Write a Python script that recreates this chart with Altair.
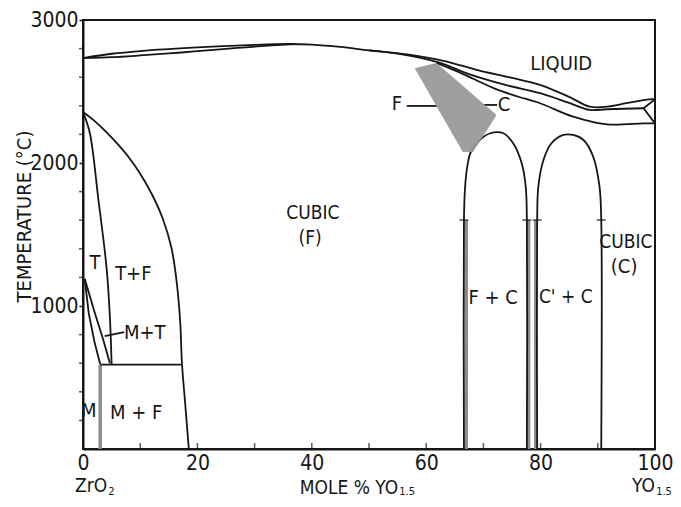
import altair as alt
import pandas as pd

W, H = 572, 429
FONT = "DejaVu Sans Condensed, Liberation Sans Narrow, Arial Narrow, sans-serif"
INK = "#161616"

# ---------------- phase-boundary curves (mole % YO1.5, temperature in C) ----------------
liquidus_x = [0, 5, 10, 20, 30, 36, 40, 45, 50, 57, 63, 69, 75, 80, 85, 88.6, 91.6, 95, 99, 100]
liquidus_T = [2734, 2764, 2783, 2808, 2826, 2832, 2828, 2812, 2788, 2758, 2715, 2650, 2595, 2545, 2462, 2394, 2394, 2418, 2445, 2445]

solidus_left_x = [0, 5, 10, 15, 20, 27, 33, 37]
solidus_left_T = [2734, 2740, 2752, 2766, 2782, 2805, 2822, 2831]

solidus_right_x = [50, 55, 62, 68, 74, 79.9, 85, 88.6, 91.6, 98]
solidus_right_T = [2788, 2765, 2705, 2615, 2545, 2488, 2420, 2371, 2376, 2383]

cubic_sol_x = [61.8, 66, 72, 76, 79.9, 85.7, 91.6, 98, 100]
cubic_sol_T = [2700, 2630, 2520, 2465, 2418, 2324, 2270, 2277, 2277]

hex_x = [100, 98, 100]
hex_T = [2445, 2383, 2277]

fluorite_x = [0, 2, 4, 6, 8, 10, 12, 14, 15.5, 16.4, 17.0, 17.3, 17.9, 18.5]
fluorite_T = [2357, 2295, 2220, 2135, 2040, 1925, 1785, 1605, 1400, 1160, 885, 600, 300, 0]

tetra_x = [0, 1.2, 2.7, 4.1, 4.7, 5.0]
tetra_T = [2357, 2208, 1741, 1275, 925, 595]

eutectoid_x = [3.0, 17.3]
eutectoid_T = [590, 590]

t_mt_x = [0.3, 2.0, 3.5, 4.7]
t_mt_T = [1190, 960, 770, 600]

m_mt_x = [0.3, 1.0, 2.0, 3.0]
m_mt_T = [1190, 950, 750, 595]

dome1_x = [66.6, 66.6, 66.8, 67.2, 67.8, 69.5, 71.2, 73.5, 75.2, 76.7, 77.4, 77.6, 77.6]
dome1_T = [0, 1601, 1834, 1980, 2077, 2165, 2208, 2208, 2138, 1998, 1834, 1601, 0]

dome2_x = [79.4, 79.4, 79.6, 80.5, 81.9, 84.0, 85.7, 87.5, 89.2, 90.3, 90.6, 90.6]
dome2_T = [0, 1601, 1834, 2021, 2138, 2196, 2196, 2161, 2044, 1834, 1601, 0]

leader_mt_x = [3.8, 7.2]
leader_mt_T = [790, 818]
leader_f_x = [56.6, 61.9]
leader_f_T = [2399, 2399]
leader_c_x = [69.9, 72.4]
leader_c_T = [2406, 2406]

# gray (double-drawn) boundaries
gray_m_x = [3.0, 3.0]
gray_m_T = [0, 590]
gray_v1_x = [67.0, 67.0]
gray_v2_x = [77.9, 77.9]
gray_v3_x = [79.15, 79.15]
gray_v_T = [0, 1601]

# two-phase F + C (hatched) region
hatch_x = [58, 61.8, 66.4, 68.2, 72.3]
hatch_top = [2662, 2700, 2540, 2478, 2336]
hatch_bot = [2662, 2397, 2077, 2077, 2336]

# transition marks on the vertical boundaries
mark_x = [66.6, 77.6, 79.4, 90.6]
mark_T = [1601, 1601, 1601, 1601]

# region labels
label_text = ["LIQUID", "CUBIC", "(F)", "CUBIC", "(C)", "T", "T+F", "M+T", "M", "M + F",
              "F + C", "C' + C", "F", "C"]
label_x = [83.6, 40.2, 39.7, 94.9, 94.6, 2.1, 8.8, 10.8, 1.0, 9.3, 71.7, 84.4, 54.9, 73.6]
label_T = [2692, 1650, 1475, 1448, 1273, 1300, 1224, 811, 266, 252, 1056, 1063, 2413, 2406]
label_size = [20, 19, 19, 19, 20, 20, 20, 20, 20, 20, 20, 19, 20, 20]

# labels under the x axis (main text + subscript), positions in mole %
bottom_text = ["ZrO", "YO"]
bottom_x = [-1.4, 96.0]
bottom_sub_text = ["2", "1.5", "1.5"]
bottom_sub_x = [4.4, 55.3, 100.2]
axis_title_text = ["MOLE % YO"]
axis_title_x = [55.1]

x_label_values = [0, 20, 40, 60, 80, 100]
x_minor_ticks = [10, 20, 30, 40, 50, 60, 70, 80, 90]
y_label_values = [1000, 2000, 3000]
y_minor_ticks = [200, 400, 600, 800, 1200, 1400, 1600, 1800, 2200, 2400, 2600, 2800]


def curves(named):
    rows = []
    for name, xs_, ts in named:
        for i, (a, b) in enumerate(zip(xs_, ts)):
            rows.append({"curve": name, "i": i, "x": a, "T": b})
    return pd.DataFrame(rows)


smooth = curves([
    ("liquidus", liquidus_x, liquidus_T),
    ("sol_left", solidus_left_x, solidus_left_T),
    ("sol_right", solidus_right_x, solidus_right_T),
    ("cubic_sol", cubic_sol_x, cubic_sol_T),
    ("fluorite", fluorite_x, fluorite_T),
    ("tetra", tetra_x, tetra_T),
    ("dome1", dome1_x, dome1_T),
    ("dome2", dome2_x, dome2_T),
])
straight = curves([
    ("hex", hex_x, hex_T),
    ("eut", eutectoid_x, eutectoid_T),
    ("tmt", t_mt_x, t_mt_T),
    ("mmt", m_mt_x, m_mt_T),
    ("lmt", leader_mt_x, leader_mt_T),
    ("lf", leader_f_x, leader_f_T),
    ("lc", leader_c_x, leader_c_T),
])
gray = curves([
    ("gm", gray_m_x, gray_m_T),
    ("g1", gray_v1_x, gray_v_T),
    ("g2", gray_v2_x, gray_v_T),
    ("g3", gray_v3_x, gray_v_T),
])
hatch = pd.DataFrame({"x": hatch_x, "top": hatch_top, "bot": hatch_bot})
marks = pd.DataFrame({"x": mark_x, "T": mark_T})
labels = pd.DataFrame({"text": label_text, "x": label_x, "T": label_T, "size": label_size})
xticks = pd.DataFrame({"x": x_minor_ticks})
yticks = pd.DataFrame({"T": y_minor_ticks})
bottom_main = pd.DataFrame({"text": bottom_text, "x": bottom_x})
bottom_sub = pd.DataFrame({"text": bottom_sub_text, "x": bottom_sub_x})
axis_title = pd.DataFrame({"text": axis_title_text, "x": axis_title_x})

xs = alt.Scale(domain=[0, 100], nice=False, zero=False)
ys = alt.Scale(domain=[0, 3000], nice=False, zero=False)

x_axis = alt.Axis(values=x_label_values, title=None, ticks=False, grid=False,
                  labelFont=FONT, labelFontSize=21, labelColor=INK, labelPadding=3,
                  labelFlush=False, labelOverlap=False,
                  domainColor=INK, domainWidth=2)
y_axis = alt.Axis(values=y_label_values, grid=False, format="d",
                  labelFont=FONT, labelFontSize=21, labelColor=INK, labelPadding=1,
                  labelOverlap=False, labelFlush=False,
                  tickSize=4, tickColor=INK, tickWidth=1.5,
                  domainColor=INK, domainWidth=2,
                  title="TEMPERATURE (°C)", titleFont=FONT, titleFontSize=20,
                  titleFontWeight="normal", titleColor=INK, titleAngle=270,
                  titleX=-59, titleY=196, titleAlign="center", titleBaseline="middle")

X = alt.X("x:Q", scale=xs)
Y = alt.Y("T:Q", scale=ys)

gray_layer = alt.Chart(gray).mark_line(color="#8c8c8c", strokeWidth=3.5).encode(
    x=X, y=Y, detail="curve:N", order="i:Q")

smooth_layer = alt.Chart(smooth).mark_line(color=INK, strokeWidth=1.8, interpolate="catmull-rom").encode(
    x=alt.X("x:Q", scale=xs, axis=x_axis), y=alt.Y("T:Q", scale=ys, axis=y_axis),
    detail="curve:N", order="i:Q")

straight_layer = alt.Chart(straight).mark_line(color=INK, strokeWidth=1.8).encode(
    x=X, y=Y, detail="curve:N", order="i:Q")

hatch_layer = alt.Chart(hatch).mark_area(color="#9a9a9a", opacity=0.95).encode(
    x=X, y=alt.Y("top:Q", scale=ys), y2="bot:Q")

mark_layer = alt.Chart(marks).mark_tick(orient="horizontal", color=INK, size=9, thickness=1.6).encode(
    x=X, y=Y)

xtick_layer = alt.Chart(xticks).mark_tick(orient="vertical", color=INK, size=6, thickness=1.5).encode(
    x=X, y=alt.value(H - 3))

ytick_layer = alt.Chart(yticks).mark_tick(orient="horizontal", color=INK, size=4, thickness=1.5).encode(
    y=Y, x=alt.value(-2))

text_layer = alt.Chart(labels).mark_text(font=FONT, color=INK, align="center", baseline="middle").encode(
    x=X, y=Y, text="text:N", size=alt.Size("size:Q", scale=None, legend=None))

bottom_a = alt.Chart(bottom_main).mark_text(
    font=FONT, fontSize=19, color=INK, align="left", baseline="middle").encode(
    x=X, y=alt.value(H + 37), text="text:N")
bottom_b = alt.Chart(axis_title).mark_text(
    font=FONT, fontSize=19, color=INK, align="right", baseline="middle").encode(
    x=X, y=alt.value(H + 39), text="text:N")
bottom_c = alt.Chart(bottom_sub).mark_text(
    font=FONT, fontSize=11, color=INK, align="left", baseline="middle").encode(
    x=X, y=alt.value(H + 43), text="text:N")

chart = alt.layer(
    gray_layer, smooth_layer, straight_layer, hatch_layer, mark_layer, xtick_layer, ytick_layer,
    text_layer, bottom_a, bottom_b, bottom_c
).properties(
    width=W, height=H,
    autosize=alt.AutoSizeParams(type="none"),
    padding={"left": 75, "top": 12, "right": 18, "bottom": 50},
    background="white",
).configure_view(stroke=INK, strokeWidth=2)

chart.save("out.html", embed_options={"renderer": "svg", "actions": False})
